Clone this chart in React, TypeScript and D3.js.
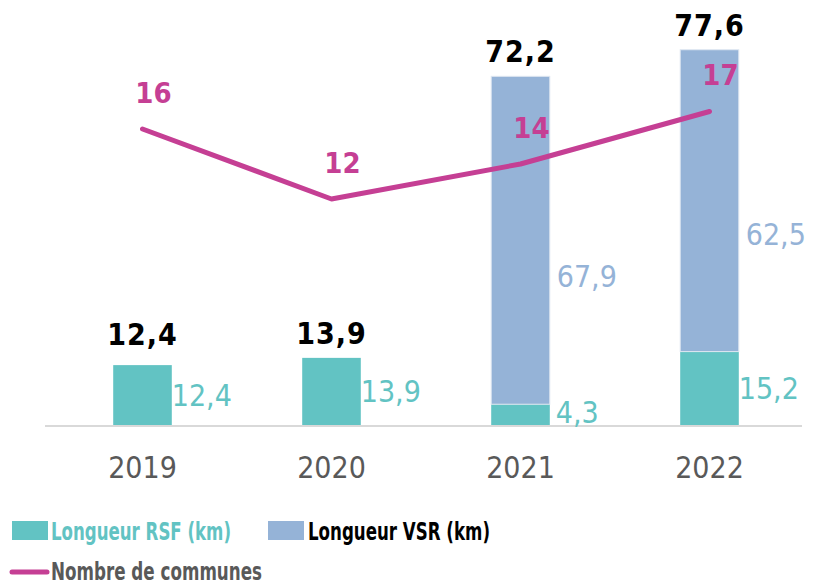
import { useRef, useEffect } from "react";
import * as d3 from 'd3'

const years = ['2019', '2020', '2021', '2022']
const rsf = [12.4, 13.9, 4.3, 15.2]
const vsr = [0, 0, 67.9, 62.5]
const totals = [12.4, 13.9, 72.2, 77.6]
const communes = [16, 12, 14, 17]

const fmt = (v: number) => v.toFixed(1).replace('.', ',')
const FONT = '"DejaVu Sans Condensed", "DejaVu Sans", sans-serif'
const TEAL = '#62C3C3'
const BLUE = '#95B3D7'
const MAGENTA = '#C53F94'
const GREY = '#595959'

function drawChart(svgRef: any) {
    const svg = d3.select(svgRef.current)
    svg.selectAll('*').remove()

    const x = d3.scaleBand().domain(years).range([48, 804]).paddingInner(0.69).paddingOuter(0.345)
    const y = d3.scaleLinear().domain([0, 88]).range([425, 0])
    const y2 = d3.scaleLinear().domain([-0.914, 23.37]).range([425, 0])
    const cx = (d: string) => (x(d) as number) + x.bandwidth() / 2

    // bars rsf
    svg.append('g').selectAll('rect')
        .data(years)
        .join('rect')
        .attr('x', d => x(d) as number)
        .attr('width', x.bandwidth())
        .attr('y', (d, i) => y(rsf[i]))
        .attr('height', (d, i) => y(0) - y(rsf[i]))
        .attr('fill', TEAL)
    // bars vsr
    svg.append('g').selectAll('rect')
        .data(years.filter((d, i) => vsr[i] > 0))
        .join('rect')
        .attr('x', d => x(d) as number)
        .attr('width', x.bandwidth())
        .attr('y', d => { const i = years.indexOf(d); return y(rsf[i] + vsr[i]) })
        .attr('height', d => { const i = years.indexOf(d); return y(rsf[i]) - y(rsf[i] + vsr[i]) })
        .attr('fill', BLUE)
        .attr('stroke', '#dfe7f1')
        .attr('stroke-width', 1)

    // axis line
    svg.append('line')
        .attr('x1', 45).attr('x2', 802)
        .attr('y1', y(0) + 1).attr('y2', y(0) + 1)
        .attr('stroke', '#D9D9D9').attr('stroke-width', 2)

    // year labels
    svg.append('g').selectAll('text')
        .data(years)
        .join('text')
        .attr('x', d => cx(d))
        .attr('y', 478)
        .attr('text-anchor', 'middle')
        .attr('font-family', FONT)
        .attr('font-size', 30)
        .attr('fill', GREY)
        .text(d => d)

    // rsf value labels
    svg.append('g').selectAll('text')
        .data(years)
        .join('text')
        .attr('x', d => (x(d) as number) + x.bandwidth() + (rsf[years.indexOf(d)] < 6 ? 6 : 0))
        .attr('y', (d, i) => Math.min(y(rsf[i] / 2) + 11, y(0) - 2))
        .attr('font-family', FONT)
        .attr('font-size', 30)
        .attr('fill', TEAL)
        .text((d, i) => fmt(rsf[i]))

    // vsr value labels
    svg.append('g').selectAll('text')
        .data(years.filter((d, i) => vsr[i] > 0))
        .join('text')
        .attr('x', d => (x(d) as number) + x.bandwidth() + 7)
        .attr('y', d => { const i = years.indexOf(d); return y(rsf[i] + vsr[i] * 0.39) + 11 })
        .attr('font-family', FONT)
        .attr('font-size', 30)
        .attr('fill', BLUE)
        .text(d => fmt(vsr[years.indexOf(d)]))

    // totals
    svg.append('g').selectAll('text')
        .data(years)
        .join('text')
        .attr('x', d => cx(d))
        .attr('y', (d, i) => Math.min(y(totals[i]) - 14, 345))
        .attr('text-anchor', 'middle')
        .attr('font-family', FONT)
        .attr('font-weight', 'bold')
        .attr('font-size', 30)
        .attr('letter-spacing', 1)
        .attr('fill', '#000')
        .text((d, i) => fmt(totals[i]))

    // line
    const line = d3.line<number>()
        .x((v, i) => cx(years[i]))
        .y(v => y2(v))
    svg.append('path')
        .attr('d', line(communes))
        .attr('fill', 'none')
        .attr('stroke', MAGENTA)
        .attr('stroke-width', 5)
        .attr('stroke-linecap', 'round')
        .attr('stroke-linejoin', 'round')

    svg.append('g').selectAll('text')
        .data(communes)
        .join('text')
        .attr('x', (v, i) => cx(years[i]) + 11)
        .attr('y', v => y2(v) - 26)
        .attr('text-anchor', 'middle')
        .attr('font-family', FONT)
        .attr('font-weight', 'bold')
        .attr('font-size', 29)
        .attr('fill', MAGENTA)
        .text(v => String(v))

    // legend
    const lg = svg.append('g')
    lg.append('rect').attr('x', 12).attr('y', 521).attr('width', 36).attr('height', 19).attr('fill', TEAL)
    lg.append('text').attr('x', 51).attr('y', 540)
        .attr('font-family', FONT).attr('font-weight', 'bold').attr('font-size', 25)
        .attr('textLength', 180).attr('lengthAdjust', 'spacingAndGlyphs')
        .attr('fill', TEAL).text('Longueur RSF (km)')
    lg.append('rect').attr('x', 268).attr('y', 521).attr('width', 36).attr('height', 19).attr('fill', BLUE)
    lg.append('text').attr('x', 308).attr('y', 540)
        .attr('font-family', FONT).attr('font-weight', 'bold').attr('font-size', 25)
        .attr('textLength', 182).attr('lengthAdjust', 'spacingAndGlyphs')
        .attr('fill', '#000').text('Longueur VSR (km)')
    lg.append('line').attr('x1', 12).attr('x2', 47).attr('y1', 572).attr('y2', 572)
        .attr('stroke', MAGENTA).attr('stroke-width', 5).attr('stroke-linecap', 'round')
    lg.append('text').attr('x', 51).attr('y', 580)
        .attr('font-family', FONT).attr('font-weight', 'bold').attr('font-size', 24)
        .attr('textLength', 211).attr('lengthAdjust', 'spacingAndGlyphs')
        .attr('fill', GREY).text('Nombre de communes')
}

export default function App() {
    const svgRef = useRef<SVGSVGElement>(null)
    useEffect(() => {
        drawChart(svgRef)
    }, [])
    return (
        <svg ref={svgRef} width={818} height={585}
            style={{ position: 'absolute', left: 0, top: 0, background: '#fff' }} />
    )
}
